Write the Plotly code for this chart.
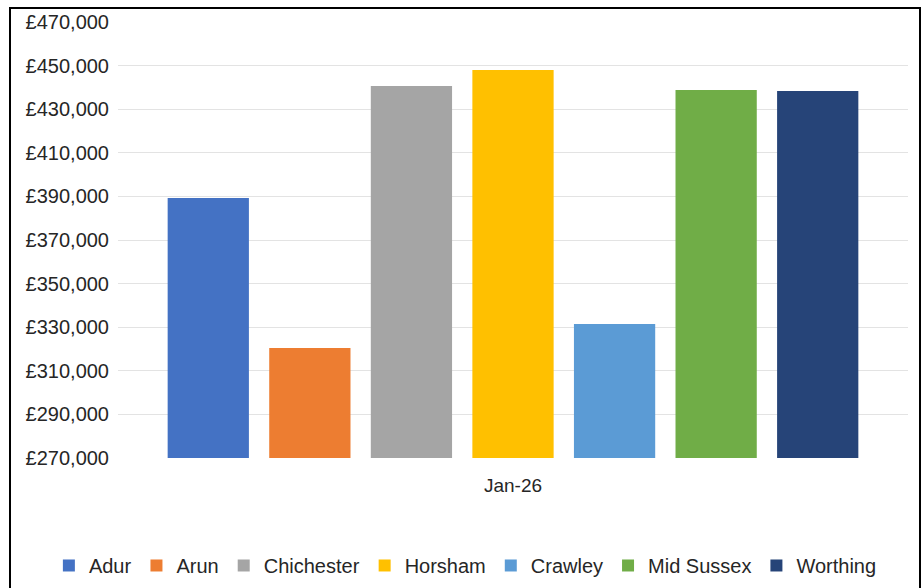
import plotly.graph_objects as go

categories = ["Jan-26"]
districts = ["Adur", "Arun", "Chichester", "Horsham", "Crawley", "Mid Sussex", "Worthing"]
prices = [389300, 320500, 440600, 448000, 331500, 438800, 438300]
colors = ["#4472C4", "#ED7D31", "#A5A5A5", "#FFC000", "#5B9BD5", "#70AD47", "#264478"]
y_ticks = list(range(270000, 470001, 20000))

fig = go.Figure()
for name, val, col in zip(districts, prices, colors):
    fig.add_trace(go.Bar(
        x=categories, y=[val], name=name,
        marker=dict(color=col, line=dict(width=0)),
    ))

FONT = "Liberation Sans, Arial, sans-serif"
fig.update_layout(
    width=922, height=588,
    margin=dict(l=118, r=14, t=22, b=130, autoexpand=False),
    paper_bgcolor="white", plot_bgcolor="white",
    barmode="group", bargap=0.1, bargroupgap=0.2,
    font=dict(family=FONT, size=20, color="#262626"),
    showlegend=True,
    legend=dict(orientation="h", xref="paper", x=-0.0875, xanchor="left",
                yref="paper", y=-0.2018, yanchor="top",
                font=dict(family=FONT, size=20, color="#262626"),
                itemwidth=30, traceorder="normal", bgcolor="rgba(0,0,0,0)"),
    yaxis=dict(range=[270000, 470000], tickvals=y_ticks,
               ticktext=[f"£{v:,}" for v in y_ticks],
               showgrid=True, gridcolor="#E3E3E3", gridwidth=1,
               zeroline=False, showline=False, ticks="",
               ticklabelstandoff=8),
    xaxis=dict(showline=False, ticks="", showgrid=False,
               tickfont=dict(size=19), ticklabelstandoff=14),
    shapes=[dict(type="rect", xref="paper", yref="paper",
                 x0=(10 - 118) / 790, x1=(920 - 118) / 790,
                 y0=(458 - 600) / 436, y1=(458 - 8) / 436,
                 line=dict(color="black", width=2), fillcolor="rgba(0,0,0,0)",
                 layer="below")],
)

fig.write_html("out.html")
